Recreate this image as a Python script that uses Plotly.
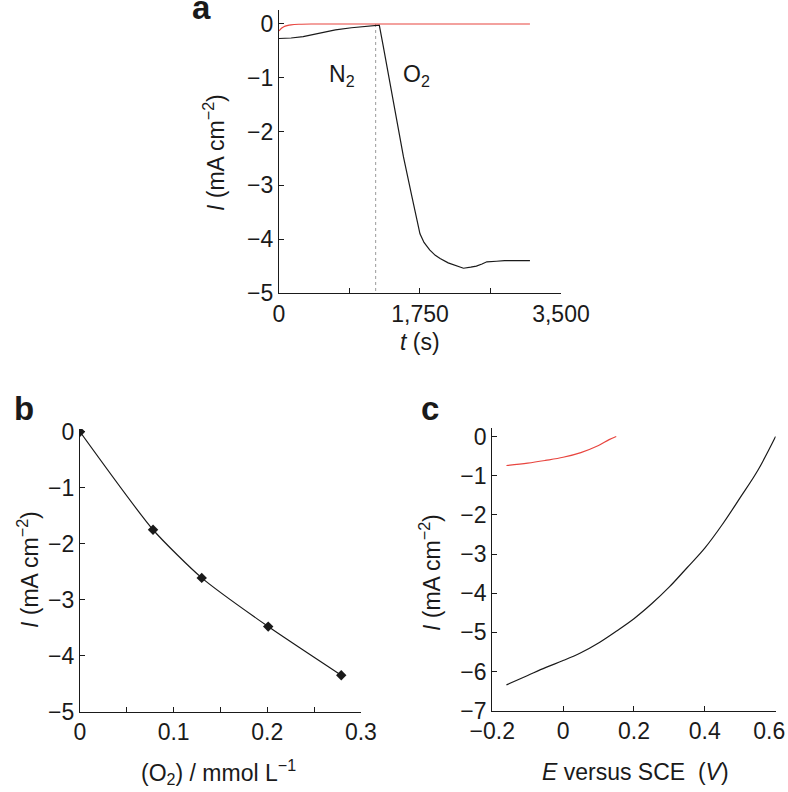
import plotly.graph_objects as go

# ---------------- data ----------------
# Panel a: chronoamperometry, N2 then O2
a_t_black = [0, 150, 300, 500, 700, 900, 1100, 1200, 1245, 1290, 1340, 1440, 1545,
             1650, 1750, 1800, 1870, 1940, 2000, 2100, 2200, 2290, 2380, 2450,
             2520, 2580, 2700, 2800, 2950, 3115]
a_i_black = [-0.27, -0.26, -0.235, -0.17, -0.11, -0.07, -0.04, -0.03, -0.02, -0.38,
             -0.79, -1.6, -2.47, -3.21, -3.9, -4.06, -4.2, -4.3, -4.36, -4.44,
             -4.49, -4.54, -4.52, -4.5, -4.46, -4.42, -4.41, -4.4, -4.4, -4.4]
a_t_red = [0, 30, 60, 100, 150, 250, 400, 3115]
a_i_red = [-0.13, -0.08, -0.05, -0.03, -0.015, -0.005, 0.0, 0.0]
a_switch_t = 1200
a_xticks = [0, 875, 1750, 2625, 3500]
a_xticktext = ["0", "", "1,750", "", "3,500"]
a_yticks = [0, -1, -2, -3, -4, -5]

# Panel b: current vs O2 concentration
b_conc = [0.0, 0.078, 0.13, 0.201, 0.279]
b_i = [0.0, -1.75, -2.61, -3.48, -4.35]
b_xticks = [0, 0.05, 0.1, 0.15, 0.2, 0.25, 0.3]
b_xticktext = ["0", "", "0.1", "", "0.2", "", "0.3"]
b_yticks = [0, -1, -2, -3, -4, -5]

# Panel c: polarisation curves
c_e_red = [-0.16, -0.1, -0.05, 0.0, 0.05, 0.1, 0.13, 0.15]
c_i_red = [-0.74, -0.68, -0.61, -0.53, -0.41, -0.23, -0.08, 0.0]
c_e_black = [-0.16, -0.1, -0.05, 0.0, 0.05, 0.1, 0.15, 0.2, 0.25, 0.3, 0.35,
             0.4, 0.45, 0.5, 0.55, 0.6]
c_i_black = [-6.34, -6.1, -5.9, -5.72, -5.52, -5.27, -4.97, -4.65, -4.27, -3.84,
             -3.35, -2.85, -2.24, -1.56, -0.86, 0.0]
c_xticks = [-0.2, 0, 0.2, 0.4, 0.6]
c_xticktext = ["\u22120.2", "0", "0.2", "0.4", "0.6\u00a0\u00a0"]
c_yticks = [0, -1, -2, -3, -4, -5, -6, -7]

# ---------------- figure ----------------
W, H = 788, 792
FONT = "Liberation Sans, Arial, Helvetica, sans-serif"
BLACK = "#1a1a1a"
RED = "#e8453f"
TICK_SIZE = 23
TITLE_SIZE = 23


def px(x):
    return x / W


def py(y):
    return 1 - y / H


def neg(v):
    return ("\u2212" + str(abs(v))) if v < 0 else str(v)


fig = go.Figure()

# panel a
fig.add_trace(go.Scatter(x=[a_switch_t, a_switch_t], y=[0, -5], mode="lines",
                         line=dict(color="#9a9a9a", width=1, dash="dot"),
                         xaxis="x", yaxis="y", showlegend=False))
fig.add_trace(go.Scatter(x=a_t_black, y=a_i_black, mode="lines",
                         line=dict(color=BLACK, width=1.2),
                         xaxis="x", yaxis="y", showlegend=False))
fig.add_trace(go.Scatter(x=a_t_red, y=a_i_red, mode="lines",
                         line=dict(color=RED, width=1.2, shape="spline"),
                         xaxis="x", yaxis="y", showlegend=False))

# panel b
fig.add_trace(go.Scatter(x=b_conc, y=b_i, mode="lines+markers",
                         line=dict(color=BLACK, width=1.2, shape="spline", smoothing=0.6),
                         marker=dict(symbol="diamond", size=8, color=BLACK),
                         xaxis="x2", yaxis="y2", showlegend=False))

# panel c
fig.add_trace(go.Scatter(x=c_e_red, y=c_i_red, mode="lines",
                         line=dict(color=RED, width=1.2, shape="spline"),
                         xaxis="x3", yaxis="y3", showlegend=False))
fig.add_trace(go.Scatter(x=c_e_black, y=c_i_black, mode="lines",
                         line=dict(color=BLACK, width=1.2, shape="spline"),
                         xaxis="x3", yaxis="y3", showlegend=False))

axis_common = dict(showline=True, linecolor=BLACK, linewidth=1.3, ticks="inside",
                   ticklen=5, tickwidth=1.2, tickcolor=BLACK, showgrid=False,
                   zeroline=False, automargin=False, ticklabeloverflow="allow",
                   tickfont=dict(family=FONT, size=TICK_SIZE, color=BLACK),
                   fixedrange=True)

fig.update_layout(
    width=W, height=H, autosize=False,
    margin=dict(l=0, r=0, t=0, b=0, pad=0),
    paper_bgcolor="white", plot_bgcolor="white",
    font=dict(family=FONT, color=BLACK),
    xaxis=dict(domain=[px(279), px(561)], range=[0, 3500.5], anchor="y",
               tickmode="array", tickvals=a_xticks, ticktext=a_xticktext, **axis_common),
    yaxis=dict(domain=[py(293), py(10)], range=[-5, 0.26], anchor="x",
               tickmode="array", tickvals=a_yticks,
               ticktext=[neg(v) for v in a_yticks], **axis_common),
    xaxis2=dict(domain=[px(80), px(361)], range=[0, 0.3001], anchor="y2",
                tickmode="array", tickvals=b_xticks, ticktext=b_xticktext, **axis_common),
    yaxis2=dict(domain=[py(711.7), py(429)], range=[-5, 0.05], anchor="x2",
                tickmode="array", tickvals=b_yticks,
                ticktext=[neg(v) for v in b_yticks], **axis_common),
    xaxis3=dict(domain=[px(492.3), px(775.7)], range=[-0.2, 0.6003], anchor="y3",
                tickmode="array", tickvals=c_xticks, ticktext=c_xticktext, **axis_common),
    yaxis3=dict(domain=[py(710.7), py(428.3)], range=[-7, 0.21], anchor="x3",
                tickmode="array", tickvals=c_yticks,
                ticktext=[neg(v) for v in c_yticks], **axis_common),
)

ylab = "<i>I</i> (mA cm<sup>\u22122</sup>)"
ann = [
    # panel letters
    dict(text="<b>a</b>", x=px(201), y=py(7), size=33),
    dict(text="<b>b</b>", x=px(24), y=py(408), size=33),
    dict(text="<b>c</b>", x=px(430), y=py(408), size=33),
    # y titles
    dict(text=ylab, x=px(214), y=py(152), size=TITLE_SIZE, angle=-90),
    dict(text=ylab, x=px(28), y=py(570), size=TITLE_SIZE, angle=-90),
    dict(text=ylab, x=px(430), y=py(573), size=TITLE_SIZE, angle=-90),
    # x titles
    dict(text="<i>t</i> (s)", x=px(420), y=py(342), size=TITLE_SIZE),
    dict(text="(O<sub>2</sub>) / mmol L<sup>\u22121</sup>", x=px(218), y=py(772), size=TITLE_SIZE),
    dict(text="<i>E</i> versus SCE  (<i>V</i>)", x=px(635), y=py(772), size=TITLE_SIZE),
    # gas labels
    dict(text="N<sub>2</sub>", x=px(342), y=py(76), size=TITLE_SIZE),
    dict(text="O<sub>2</sub>", x=px(417), y=py(76), size=TITLE_SIZE),
]
for a in ann:
    fig.add_annotation(text=a["text"], x=a["x"], y=a["y"], xref="paper", yref="paper",
                       xanchor="center", yanchor="middle", showarrow=False,
                       textangle=a.get("angle", 0),
                       font=dict(family=FONT, size=a["size"], color=BLACK))

fig.write_html("out.html", config={"displayModeBar": False},
               post_script="document.body.style.margin='0';"
                           "document.body.style.overflow='hidden';")
